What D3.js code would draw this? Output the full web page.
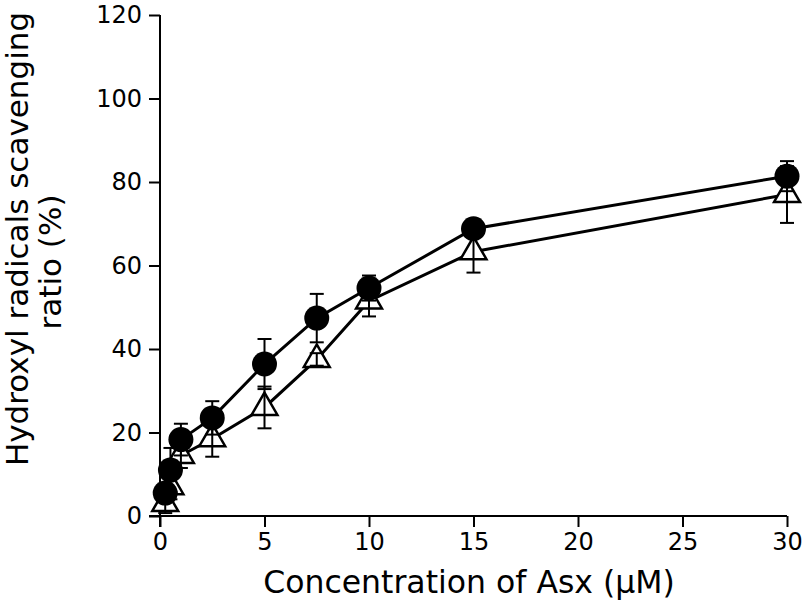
<!DOCTYPE html>
<html><head><meta charset="utf-8">
<script src="https://cdn.jsdelivr.net/npm/d3@7"></script>
<style>body{margin:0;background:#fff}svg{display:block}text{font-family:"DejaVu Sans",Verdana,sans-serif;fill:#000}</style>
</head><body><svg id="c" width="805" height="606"></svg>
<script>
const concentrations = [0.25, 0.5, 1, 2.5, 5, 7.5, 10, 15, 30];
const circleValues = [5.5, 11, 18.3, 23.5, 36.4, 47.4, 54.6, 68.8, 81.4];
const circleErrors = [2, 5.3, 3.8, 4, 6, 5.8, 3, 1.2, 3.6];
const triangleValues = [3, 7, 14.5, 18.5, 26, 37.5, 51.5, 63.3, 77];
const triangleErrors = [2.3, 3, 3, 4.3, 5, 1.5, 3.7, 5, 6.8];
const xTicks = [0, 5, 10, 15, 20, 25, 30];
const yTicks = [0, 20, 40, 60, 80, 100, 120];
const xTitle = "Concentration of Asx (μM)";
const yTitle = ["Hydroxyl radicals scavenging", "ratio (%)"];

const svg = d3.select("#c");
const x = d3.scaleLinear().domain([0, 30]).range([160, 787]);
const y = d3.scaleLinear().domain([0, 120]).range([516, 15]);

const xAxis = svg.append("g").attr("transform", `translate(0,${y(0)})`)
  .call(d3.axisBottom(x).tickValues(xTicks).tickSize(11).tickPadding(6).tickSizeOuter(0));
const yAxis = svg.append("g").attr("transform", `translate(${x(0)},0)`)
  .call(d3.axisLeft(y).tickValues(yTicks).tickSize(11).tickPadding(7).tickSizeOuter(0));
[xAxis, yAxis].forEach(a => {
  a.selectAll("path,line").attr("stroke", "#000").attr("stroke-width", 2);
  a.selectAll("text").attr("font-size", 24).attr("font-family", "DejaVu Sans, Verdana, sans-serif");
});
xAxis.select("path.domain").attr("d", `M${x(0)-11},0H${x(30)}`);
yAxis.select("path.domain").attr("d", `M0,${y(0)+11}V${y(120)}`);

svg.append("text").attr("x", 469).attr("y", 593).attr("text-anchor", "middle")
  .attr("font-size", 31.5).text(xTitle);
const yCenters = [239, 262];
yTitle.forEach((t, i) => {
  svg.append("text").attr("transform", `translate(${28 + i*33},${yCenters[i]}) rotate(-90)`)
    .attr("text-anchor", "middle").attr("font-size", 31).text(t);
});

const line = d3.line().x(d => x(d[0])).y(d => y(d[1]));
const circ = concentrations.map((c, i) => [c, circleValues[i], circleErrors[i]]);
const tri = concentrations.map((c, i) => [c, triangleValues[i], triangleErrors[i]]);

svg.append("path").attr("d", line(circ)).attr("fill", "none").attr("stroke", "#000").attr("stroke-width", 3);
svg.append("path").attr("d", line(tri)).attr("fill", "none").attr("stroke", "#000").attr("stroke-width", 3);

const sym = d3.symbol(d3.symbolTriangle, 290);
svg.selectAll(".tri").data(tri).join("path").attr("class", "tri")
  .attr("transform", d => `translate(${x(d[0])},${y(d[1])})`)
  .attr("d", sym()).attr("fill", "#fff").attr("stroke", "#000").attr("stroke-width", 2.5);

function errBars(data) {
  const g = svg.append("g").attr("stroke", "#000").attr("stroke-width", 2);
  data.forEach(d => {
    const cx = x(d[0]), top = y(d[1] + d[2]), bot = y(d[1] - d[2]);
    g.append("line").attr("x1", cx).attr("x2", cx).attr("y1", top).attr("y2", bot);
    g.append("line").attr("x1", cx - 7).attr("x2", cx + 7).attr("y1", top).attr("y2", top);
    g.append("line").attr("x1", cx - 7).attr("x2", cx + 7).attr("y1", bot).attr("y2", bot);
  });
}
errBars(tri);
errBars(circ);

svg.selectAll(".cir").data(circ).join("circle").attr("class", "cir")
  .attr("cx", d => x(d[0])).attr("cy", d => y(d[1])).attr("r", 12.5).attr("fill", "#000");
</script></body></html>
